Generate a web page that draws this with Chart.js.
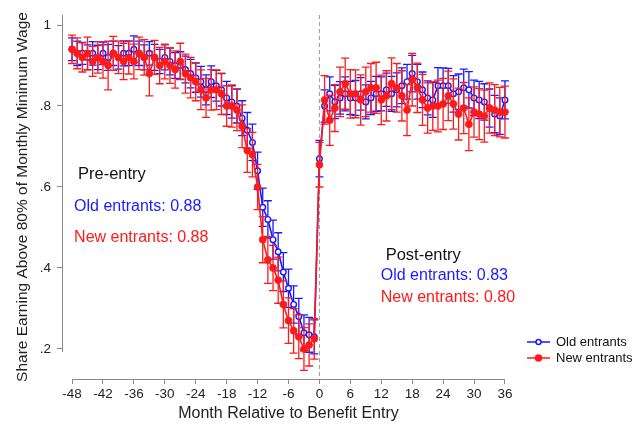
<!DOCTYPE html>
<html><head><meta charset="utf-8">
<script src="https://cdn.jsdelivr.net/npm/chart.js@4/dist/chart.umd.min.js"></script>
<style>html,body{margin:0;padding:0;background:#fff}#wrap{position:relative;width:644px;height:424px}</style>
</head><body><div id="wrap"><canvas id="c" width="644" height="424"></canvas></div>
<script>
const months=[-48,-47,-46,-45,-44,-43,-42,-41,-40,-39,-38,-37,-36,-35,-34,-33,-32,-31,-30,-29,-28,-27,-26,-25,
-24,-23,-22,-21,-20,-19,-18,-17,-16,-15,-14,-13,-12,-11,-10,-9,-8,-7,-6,-5,-4,-3,-2,-1,0,
1,2,3,4,5,6,7,8,9,10,11,12,13,14,15,16,17,18,19,20,21,22,23,24,25,26,27,28,29,30,31,32,33,34,35,36];
const oldEntrants=[0.94,0.93,0.93,0.92,0.93,0.92,0.93,0.92,0.93,0.92,0.93,0.93,0.94,0.93,0.92,0.93,0.92,0.91,0.92,0.91,0.90,0.90,0.89,0.88,
0.87,0.86,0.84,0.86,0.85,0.84,0.82,0.81,0.80,0.77,0.74,0.71,0.64,0.55,0.52,0.47,0.44,0.39,0.35,0.31,0.28,0.24,0.235,0.23,
0.67,
0.80,0.83,0.81,0.82,0.83,0.82,0.82,0.83,0.81,0.82,0.83,0.83,0.84,0.83,0.84,0.85,0.86,0.88,0.86,0.84,0.82,0.815,0.85,0.85,0.85,0.83,0.835,0.845,0.84,0.82,0.815,0.81,0.795,0.78,0.775,0.815];
const oldErr=[0.028,0.030,0.027,0.031,0.029,0.030,0.028,0.032,0.030,0.029,0.031,0.030,0.033,0.030,0.031,0.029,0.032,0.030,0.031,0.033,0.032,0.034,0.033,0.035,
0.036,0.038,0.037,0.039,0.038,0.040,0.041,0.040,0.042,0.043,0.044,0.045,0.046,0.047,0.046,0.048,0.047,0.048,0.047,0.046,0.045,0.044,0.043,0.042,
0.045,
0.040,0.042,0.041,0.040,0.042,0.041,0.043,0.040,0.042,0.041,0.043,0.042,0.041,0.043,0.042,0.044,0.043,0.045,0.043,0.044,0.042,0.043,0.045,0.044,0.043,0.045,0.044,0.046,0.045,0.044,0.046,0.045,0.047,0.046,0.045,0.047];
const newEntrants=[0.94,0.93,0.92,0.93,0.91,0.92,0.91,0.90,0.93,0.92,0.91,0.92,0.91,0.93,0.92,0.88,0.92,0.90,0.91,0.90,0.89,0.91,0.88,0.87,
0.86,0.84,0.82,0.84,0.84,0.83,0.80,0.80,0.79,0.75,0.69,0.68,0.60,0.47,0.42,0.40,0.37,0.31,0.27,0.245,0.23,0.20,0.21,0.225,
0.655,
0.815,0.765,0.795,0.835,0.855,0.83,0.83,0.815,0.835,0.845,0.845,0.815,0.825,0.855,0.845,0.825,0.79,0.865,0.845,0.815,0.795,0.80,0.80,0.805,0.825,0.805,0.78,0.795,0.755,0.785,0.78,0.775,0.795,0.79,0.785,0.785];
const newErr=[0.035,0.038,0.036,0.040,0.037,0.039,0.041,0.060,0.042,0.040,0.045,0.041,0.043,0.040,0.044,0.055,0.042,0.045,0.043,0.044,0.046,0.045,0.048,0.050,
0.047,0.049,0.048,0.050,0.049,0.051,0.050,0.052,0.051,0.053,0.054,0.055,0.056,0.057,0.058,0.056,0.057,0.058,0.056,0.055,0.054,0.053,0.052,0.050,
0.055,
0.060,0.062,0.058,0.061,0.063,0.060,0.059,0.062,0.061,0.060,0.063,0.061,0.062,0.064,0.060,0.062,0.063,0.065,0.061,0.063,0.062,0.060,0.064,0.063,0.061,0.062,0.064,0.063,0.065,0.062,0.063,0.064,0.062,0.063,0.061,0.064];
const xTicks=[-48,-42,-36,-30,-24,-18,-12,-6,0,6,12,18,24,30,36];
const yTicks=[0.2,0.4,0.6,0.8,1];
const yTickLabels=['.2','.4','.6','.8','1'];
const seriesNames=['Old entrants','New entrants'];
const notes=[
 {text:'Pre-entry',x:-46.85,y:0.630,c:'#111',size:16.5},
 {text:'Old entrants: 0.88',x:-47.6,y:0.551,c:'#1a1aff',size:16},
 {text:'New entrants: 0.88',x:-47.6,y:0.474,c:'#ff1a1a',size:16},
 {text:'Post-entry',x:12.85,y:0.430,c:'#111',size:16.5},
 {text:'Old entrants: 0.83',x:11.9,y:0.380,c:'#1a1aff',size:16},
 {text:'New entrants: 0.80',x:11.9,y:0.328,c:'#ff1a1a',size:16}
];

const FONT='"Liberation Sans", Arial, sans-serif';
const BLUE='#1a1aff', RED='#ff1a1a';

const errorBars={id:'errorBars',
 beforeDatasetDraw(chart,args){
  const ds=chart.data.datasets[args.index];const meta=args.meta;const ys=chart.scales.y;const ctx=chart.ctx;
  ctx.save();ctx.strokeStyle=ds.borderColor;ctx.lineWidth=1.3;
  meta.data.forEach((pt,i)=>{
    const v=ds.data[i].y,e=ds.errs[i];
    const y1=ys.getPixelForValue(v-e),y2=ys.getPixelForValue(v+e);
    ctx.beginPath();ctx.moveTo(pt.x,y1);ctx.lineTo(pt.x,y2);
    ctx.moveTo(pt.x-4,y1);ctx.lineTo(pt.x+4,y1);
    ctx.moveTo(pt.x-4,y2);ctx.lineTo(pt.x+4,y2);ctx.stroke();
  });
  ctx.restore();
 }};
const decor={id:'decor',
 beforeDatasetsDraw(chart){
  const {ctx,chartArea:a,scales:{x,y}}=chart;
  ctx.save();
  ctx.strokeStyle='#8a8a8a';ctx.lineWidth=1;
  ctx.beginPath();ctx.moveTo(x.getPixelForValue(-48),a.bottom+0.5);ctx.lineTo(x.getPixelForValue(36),a.bottom+0.5);ctx.stroke();
  ctx.beginPath();ctx.moveTo(a.left+0.5,a.top);ctx.lineTo(a.left+0.5,y.getPixelForValue(0.2)+3);ctx.stroke();
  ctx.setLineDash([4,3]);ctx.strokeStyle='#999';
  const x0=x.getPixelForValue(0);
  ctx.beginPath();ctx.moveTo(x0,a.top);ctx.lineTo(x0,a.bottom);ctx.stroke();
  ctx.restore();
 },
 afterDraw(chart){
  const {ctx,scales:{x,y}}=chart;
  ctx.save();ctx.textBaseline='middle';ctx.textAlign='left';
  notes.forEach(n=>{ctx.font=n.size+'px '+FONT;ctx.fillStyle=n.c;ctx.fillText(n.text,x.getPixelForValue(n.x),y.getPixelForValue(n.y));});
  const items=[{c:BLUE,fill:'#fff',r:2.5,y:342},{c:RED,fill:RED,r:3,y:358}];
  ctx.font='13px '+FONT;
  items.forEach((it,i)=>{
    ctx.strokeStyle=it.c;ctx.lineWidth=1.5;
    ctx.beginPath();ctx.moveTo(527,it.y);ctx.lineTo(550,it.y);ctx.stroke();
    ctx.beginPath();ctx.arc(538.5,it.y,it.r,0,Math.PI*2);ctx.fillStyle=it.fill;ctx.fill();ctx.stroke();
    ctx.fillStyle='#111';ctx.fillText(seriesNames[i],556,it.y);
  });
  ctx.restore();
 }};

const mk=(vals)=>months.map((m,i)=>({x:m,y:vals[i]}));
new Chart(document.getElementById('c'),{
 type:'line',
 data:{datasets:[
  {label:seriesNames[0],data:mk(oldEntrants),errs:oldErr,borderColor:BLUE,backgroundColor:'#fff',pointBorderColor:BLUE,pointBackgroundColor:'#fff',pointRadius:2.8,pointBorderWidth:1.4,borderWidth:1.6,order:1},
  {label:seriesNames[1],data:mk(newEntrants),errs:newErr,borderColor:RED,backgroundColor:RED,pointBorderColor:RED,pointBackgroundColor:RED,pointRadius:3.4,pointBorderWidth:1,borderWidth:1.6,order:0}
 ]},
 options:{
  responsive:false,animation:false,
  layout:{padding:{left:0,right:129,top:15,bottom:0}},
  plugins:{legend:{display:false},tooltip:{enabled:false}},
  scales:{
   x:{type:'linear',min:-49.95,max:37.95,
      afterBuildTicks:s=>{s.ticks=xTicks.map(v=>({value:v}));},
      ticks:{font:{family:FONT,size:13.5},color:'#222',padding:2,maxRotation:0,autoSkip:false},
      grid:{drawOnChartArea:false,drawTicks:true,tickLength:5,color:'#8a8a8a'},
      border:{display:false},
      title:{display:true,text:'Month Relative to Benefit Entry',font:{family:FONT,size:16},color:'#222',padding:{top:2,bottom:1}},
      afterFit:s=>{s.height=45;}},
   y:{min:0.1259,max:1.0247,
      afterBuildTicks:s=>{s.ticks=yTicks.map(v=>({value:v}));},
      ticks:{font:{family:FONT,size:13.5},color:'#222',padding:6,callback:(v)=>{const i=yTicks.findIndex(t=>Math.abs(t-v)<1e-6);return i>=0?yTickLabels[i]:'';}},
      grid:{drawOnChartArea:false,drawTicks:true,tickLength:5,color:'#8a8a8a'},
      border:{display:false},
      title:{display:true,text:'Share Earning Above 80% of Monthly Minimum Wage',font:{family:FONT,size:15.5},color:'#222',padding:{top:13,bottom:0}},
      afterFit:s=>{s.width=62;}}
  }
 },
 plugins:[errorBars,decor]
});
</script></body></html>
